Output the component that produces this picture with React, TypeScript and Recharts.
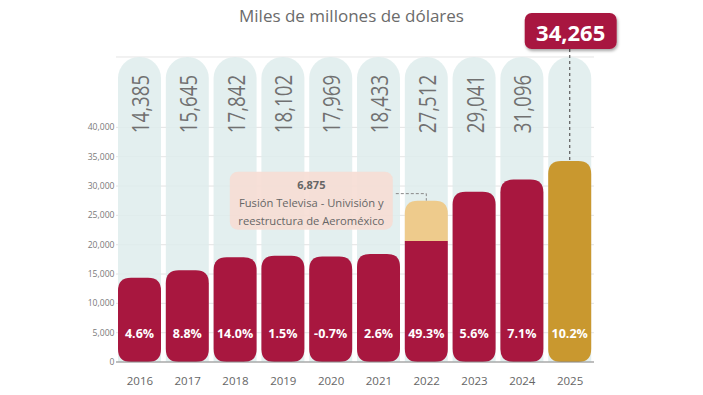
import React from 'react';
import { BarChart, Bar, XAxis, YAxis, CartesianGrid } from 'recharts';

const years = ['2016', '2017', '2018', '2019', '2020', '2021', '2022', '2023', '2024', '2025'];
const totals = [14385, 15645, 17842, 18102, 17969, 18433, 27512, 29041, 31096, 34265];
const extraordinary = [0, 0, 0, 0, 0, 0, 6875, 0, 0, 0];
const growth = ['4.6%', '8.8%', '14.0%', '1.5%', '-0.7%', '2.6%', '49.3%', '5.6%', '7.1%', '10.2%'];
const yTicks = [0, 5000, 10000, 15000, 20000, 25000, 30000, 35000, 40000];
const highlightYear = '2025';
const noteYear = '2022';
const noteLines = ['Fusión Televisa - Univisión y', 'reestructura de Aeroméxico'];

const data = years.map((year, i) => ({
  year,
  base: totals[i] - extraordinary[i],
  extra: extraordinary[i],
  total: totals[i],
  growth: growth[i],
}));

const RED = '#a8173f';
const GOLD = '#c9982f';
const PEACH = '#eecb8c';
const FONT = '"Open Sans", "Noto Sans", sans-serif';
const fmt = (v: number) => v.toLocaleString('en-US');

function roundedPath(x: number, y: number, w: number, h: number, rt: number, rb: number) {
  rt = Math.min(rt, w / 2, h / 2);
  rb = Math.min(rb, w / 2, h / 2);
  return `M${x},${y + rt} Q${x},${y} ${x + rt},${y} L${x + w - rt},${y} Q${x + w},${y} ${x + w},${y + rt}
  L${x + w},${y + h - rb} Q${x + w},${y + h} ${x + w - rb},${y + h} L${x + rb},${y + h} Q${x},${y + h} ${x},${y + h - rb} Z`;
}

function BaseShape(props: any) {
  const { x, y, width, height, payload, background } = props;
  const cx = x + width / 2;
  const hasExtra = payload.extra > 0;
  const isHighlight = payload.year === highlightYear;
  const fill = isHighlight ? GOLD : RED;
  const bgY = background ? background.y : 57;
  return (
    <g>
      <path d={roundedPath(x, y, width, height, hasExtra ? 0 : 13, 13)} fill={fill} />
      {!isHighlight && (
        <text
          transform={`translate(${cx},${bgY + 47}) rotate(-90) scale(0.78,1)`}
          textAnchor="middle"
          dominantBaseline="central"
          fontSize={24}
          fill="#717171"
          fontFamily={FONT}
        >
          {fmt(payload.total)}
        </text>
      )}
      <text
        x={cx}
        y={y + height - 29}
        textAnchor="middle"
        dominantBaseline="central"
        fontSize={12.5}
        fontWeight={700}
        fill="#ffffff"
        fontFamily={FONT}
      >
        {payload.growth}
      </text>
      {isHighlight && (
        <g>
          <line x1={cx} x2={cx} y1={49} y2={y} stroke="#666" strokeDasharray="3 3" strokeWidth={1.3} />
          <rect x={cx - 45} y={13} width={92} height={36} rx={7} fill={RED} filter="url(#shadow)" />
          <text
            x={cx + 1}
            y={31.5}
            textAnchor="middle"
            dominantBaseline="central"
            fontSize={22}
            fontWeight={700}
            fill="#ffffff"
            fontFamily={FONT}
          >
            {fmt(payload.total)}
          </text>
        </g>
      )}
    </g>
  );
}

function ExtraShape(props: any) {
  const { x, y, width, height, payload } = props;
  if (!payload.extra || height <= 0) return null;
  const cx = x + width / 2;
  const boxRight = x - 12;
  const boxW = 163;
  const boxTop = y - 29;
  return (
    <g>
      <path d={roundedPath(x, y, width, height, 13, 0)} fill={PEACH} />
      {payload.year === noteYear && (
        <g>
          <rect x={boxRight - boxW} y={boxTop} width={boxW} height={58} rx={8} fill="#f6ddd4" opacity={0.9} />
          <polyline
            points={`${boxRight + 3},${y - 7} ${cx},${y - 7} ${cx},${y}`}
            fill="none"
            stroke="#888"
            strokeDasharray="3 2"
            strokeWidth={1}
          />
          <text x={boxRight - boxW / 2} y={boxTop + 13} textAnchor="middle" dominantBaseline="central" fontSize={11} fontWeight={700} fill="#666" fontFamily={FONT}>
            {fmt(payload.extra)}
          </text>
          {noteLines.map((l, i) => (
            <text key={i} x={boxRight - boxW / 2} y={boxTop + 31 + i * 18} textAnchor="middle" dominantBaseline="central" fontSize={11.2} fill="#666" fontFamily={FONT}>
              {l}
            </text>
          ))}
        </g>
      )}
    </g>
  );
}

export default function App() {
  return (
    <div style={{ position: 'absolute', left: 0, top: 0, width: 703, height: 395, background: '#ffffff', fontFamily: FONT }}>
      <div
        style={{
          position: 'absolute',
          left: 0,
          width: 703,
          top: 4,
          textAlign: 'center',
          fontSize: 17,
          color: '#6b6b6b',
          fontFamily: FONT,
          paddingLeft: 0,
        }}
      >
        Miles de millones de dólares
      </div>
      <BarChart
        width={703}
        height={395}
        data={data}
        margin={{ top: 57, right: 109, bottom: 0, left: 0 }}
        barSize={43}
        style={{ overflow: 'visible' }}
      >
        <defs>
          <filter id="shadow" x="-20%" y="-20%" width="150%" height="160%">
            <feDropShadow dx="1" dy="2" stdDeviation="1.5" floodColor="#000" floodOpacity="0.35" />
          </filter>
        </defs>
        <CartesianGrid vertical={false} stroke="#d9d9d9" strokeWidth={0.7} />
        <XAxis
          dataKey="year"
          height={33}
          tickLine={false}
          axisLine={{ stroke: '#8a8a8a', strokeWidth: 1 }}
          tick={{ fontSize: 11.5, fill: '#666', fontFamily: FONT }}
          tickMargin={9}
          interval={0}
        />
        <YAxis
          width={116}
          domain={[0, 52000]}
          ticks={yTicks}
          tickFormatter={(v: number) => fmt(v)}
          axisLine={false}
          tickLine={false}
          tickSize={0}
          tickMargin={1.5}
          tick={{ fontSize: 8.6, fill: '#7a7a7a', fontFamily: FONT }}
        />
        <Bar
          dataKey="base"
          stackId="a"
          isAnimationActive={false}
          background={{ fill: 'rgba(222,236,236,0.85)', radius: [21, 21, 0, 0] } as any}
          shape={(p: any) => <BaseShape {...p} />}
        />
        <Bar dataKey="extra" stackId="a" isAnimationActive={false} shape={(p: any) => <ExtraShape {...p} />} />
      </BarChart>
    </div>
  );
}
